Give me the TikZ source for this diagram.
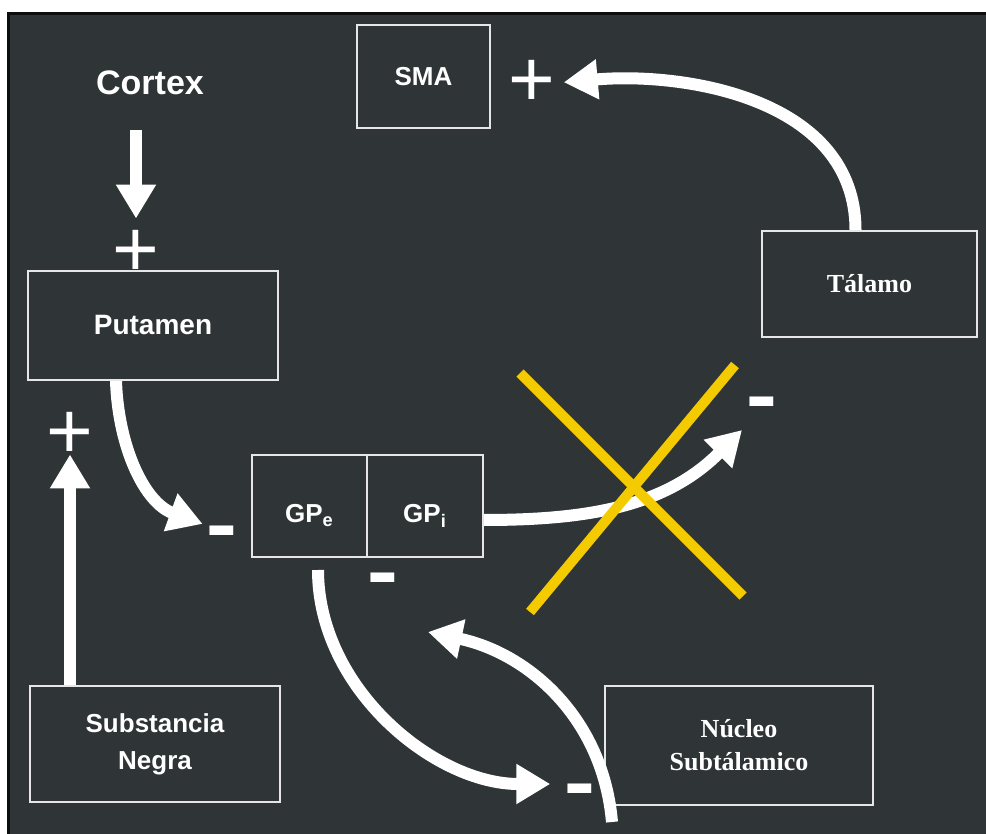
\documentclass[tikz,border=0pt]{standalone}
\usepackage{fontspec}
\setmainfont{Liberation Sans}
\newfontfamily\serifa{Liberation Serif}
\usepackage{xcolor}
\usetikzlibrary{arrows.meta}
\definecolor{fundo} {rgb}{0.184313725,0.203921569,0.211764706}
\definecolor{moldura} {rgb}{0.050980392,0.054901961,0.058823529}
\definecolor{contorno} {rgb}{0.901960784,0.901960784,0.901960784}
\definecolor{cruz} {rgb}{0.956862745,0.796078431,0.003921569}
\newcommand{\traco}{\scalebox{1}[2]{\textendash}}

\tikzset{
      caixa/.style={draw=contorno,line width=1pt,text=white,inner sep=0pt,align=center},
      sans/.style={font=\bfseries\fontsize{13}{18.5}\selectfont},
      serif/.style={font=\serifa\bfseries\fontsize{13}{16.5}\selectfont},
      globo/.style={caixa,sans,minimum height=51pt,text height=17pt,text depth=0pt},
      seta/.style={draw=white,line width=6pt,-{Triangle[length=17pt,width=19pt]}},
      mais/.style={text=white,inner sep=0pt,font=\fontsize{40}{40}\selectfont},
      menos/.style={text=white,inner sep=0pt,text height=30pt,text depth=0pt,font=\bfseries\fontsize{24}{24}\selectfont},
      xis/.style={draw=cruz,line width=5pt}
}

\begin{document}
\begin{tikzpicture}[x=0.5pt,y=-0.5pt]
      \useasboundingbox (0,0) rectangle (986,834);
      \fill[white] (0,0) rectangle (986,834);
      \filldraw[fill=fundo,draw=moldura,line width=1.5pt] (8,13.5) rectangle (992,840);

      \node[caixa,sans,minimum width=66.5pt,minimum height=51.5pt] (sma) at (423.5,76.5) {SMA};
      \node[text=white,font=\bfseries\fontsize{17}{20}\selectfont] (cortex) at (150,83) {Cortex};
      \node[caixa,sans,font=\bfseries\fontsize{14}{18}\selectfont,minimum width=125pt,minimum height=54.5pt] (putamen) at (153,325.5) {Putamen};
      \node[caixa,serif,minimum width=107.5pt,minimum height=53pt] (talamo) at (869.5,284) {Tálamo};
      \node[globo,minimum width=57.5pt] (gpe) at (309.5,506) {GP\textsubscript{e}};
      \node[globo,minimum width=58pt] (gpi) at (425,506) {GP\textsubscript{i}};
      \node[caixa,sans,minimum width=125pt,minimum height=58pt] (substancia) at (155,744) {Substancia\\Negra};
      \node[caixa,serif,minimum width=134pt,minimum height=59.5pt] (nucleo) at (739,745.5) {Núcleo\\Subtálamico};

      \node[mais] (psma) at (532,83) {+};
      \node[mais] (pcortex) at (136,253) {+};
      \node[mais] (psn) at (70,435) {+};
      \node[menos] (mput) at (222,526) {\traco};
      \node[menos] (mgp) at (383,573) {\traco};
      \node[menos] (mtal) at (762,398) {\traco};
      \node[menos] (mnuc) at (580,784) {\traco};
      \coordinate (ptal) at (742,430);
      \coordinate (pgpi) at (428,632);

      \draw[seta,shorten <=14pt,shorten >=5.5pt] (cortex.south -| pcortex) -- (pcortex.north);
      \draw[seta,shorten >=4pt] ([xshift=-7pt]talamo.north) to[out=90,in=5] (psma.east);
      \draw[seta,shorten >=3pt] ([xshift=-18.5pt]putamen.south) to[out=-88,in=160] (mput.west);
      \draw[seta] (substancia.north -| psn) -- ([yshift=2pt]psn.south);
      \draw[seta] ([yshift=-7pt]gpi.east) to[out=0,in=-135] (ptal);
      \draw[seta,shorten <=6pt,shorten >=8pt] ([xshift=4.25pt]gpe.south) to[out=-90,in=180] (mnuc.west);
      \draw[seta] ([xshift=4pt,yshift=-8pt]nucleo.south west) to[out=95,in=-12] (pgpi);

      \draw[xis] (520,373) -- (743,596);
      \draw[xis] (735,365) -- (530,612);
\end{tikzpicture}
\end{document}
